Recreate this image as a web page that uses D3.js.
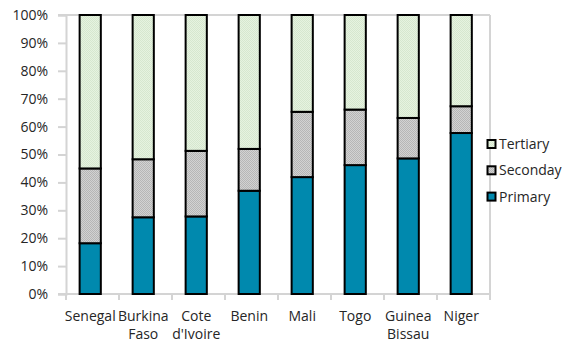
<!DOCTYPE html>
<html>
<head>
<meta charset="utf-8">
<script src="https://cdn.jsdelivr.net/npm/d3@7"></script>
<style>
  html, body { margin: 0; padding: 0; background: #fff; }
  svg { display: block; font-family: "Open Sans", "Noto Sans", sans-serif; }
</style>
</head>
<body>
<svg id="chart" width="566" height="342"></svg>
<script>
// Share of each education level by country (percent)
const countries = ["Senegal", "Burkina Faso", "Cote d'Ivoire", "Benin", "Mali", "Togo", "Guinea Bissau", "Niger"];
const primary   = [18.2, 27.5, 27.8, 37.0, 41.9, 46.2, 48.6, 57.7];
const secondary = [26.8, 20.8, 23.5, 15.0, 23.4, 19.9, 14.5, 9.6];
const tertiary  = [55.0, 51.7, 48.7, 48.0, 34.7, 33.9, 36.9, 32.7];
const seriesNames = ["Primary", "Seconday", "Tertiary"];
const yTicks = [0, 10, 20, 30, 40, 50, 60, 70, 80, 90, 100];

const svg = d3.select("#chart");
const plotLeft = 66, plotRight = 490, plotTop = 15, plotBottom = 294;
const axisColor = "#d4d4d4";
const textColor = "#262626";

// Fine checkered textures for the upper two segments
const defs = svg.append("defs");
function texture(id, base, dot) {
  const p = defs.append("pattern").attr("id", id)
    .attr("patternUnits", "userSpaceOnUse").attr("width", 2).attr("height", 2);
  p.append("rect").attr("width", 2).attr("height", 2).attr("fill", base);
  p.append("rect").attr("x", 0).attr("y", 0).attr("width", 1).attr("height", 1).attr("fill", dot);
  p.append("rect").attr("x", 1).attr("y", 1).attr("width", 1).attr("height", 1).attr("fill", dot);
}
texture("texSecondary", "#d2d2d2", "#b6b6b6");
texture("texTertiary", "#e6f3e0", "#d6e7cf");
const fills = { "Primary": "#0089ae", "Seconday": "url(#texSecondary)", "Tertiary": "url(#texTertiary)" };
const swatchFills = { "Primary": "#0089ae", "Seconday": "url(#texSecondary)", "Tertiary": "url(#texTertiary)" };

const x = d3.scaleBand().domain(countries).range([plotLeft, plotRight])
  .paddingInner(0.6).paddingOuter(0.3).align(0.46);
const y = d3.scaleLinear().domain([0, 100]).range([plotBottom, plotTop]);

// Plot frame: top and right edges
svg.append("line").attr("x1", plotLeft - 8).attr("x2", plotRight).attr("y1", y(100)).attr("y2", y(100))
  .attr("stroke", axisColor).attr("stroke-width", 2);
svg.append("line").attr("x1", plotRight).attr("x2", plotRight).attr("y1", plotTop).attr("y2", plotBottom)
  .attr("stroke", axisColor).attr("stroke-width", 2);

// Y axis
const yAxis = svg.append("g").attr("transform", `translate(${plotLeft},0)`)
  .call(d3.axisLeft(y).tickValues(yTicks).tickFormat(d => d + "%").tickSize(8).tickPadding(10));
yAxis.select(".domain").attr("stroke", axisColor).attr("stroke-width", 2);
yAxis.selectAll(".tick line").attr("stroke", axisColor).attr("stroke-width", 2);
yAxis.selectAll(".tick text").attr("fill", textColor).style("font-size", "14px")
  .style("font-family", "'Open Sans', sans-serif");

// X axis with ticks between categories
const step = x.step();
const boundaries = d3.range(countries.length + 1).map(i => plotLeft + i * step);
svg.append("line").attr("x1", plotLeft - 8).attr("x2", plotRight).attr("y1", plotBottom).attr("y2", plotBottom)
  .attr("stroke", axisColor).attr("stroke-width", 2);
svg.append("g").selectAll("line").data(boundaries).join("line")
  .attr("x1", d => d).attr("x2", d => d).attr("y1", plotBottom).attr("y2", plotBottom + 6)
  .attr("stroke", axisColor).attr("stroke-width", 2);

// Stacked bars
const rows = countries.map((c, i) => ({ country: c, Primary: primary[i], Seconday: secondary[i], Tertiary: tertiary[i] }));
const stacked = d3.stack().keys(seriesNames)(rows);
svg.append("g").selectAll("g").data(stacked).join("g")
  .attr("fill", d => fills[d.key])
  .selectAll("rect").data(d => d).join("rect")
  .attr("x", d => x(d.data.country) - 1)
  .attr("width", x.bandwidth())
  .attr("y", d => y(d[1]))
  .attr("height", d => y(d[0]) - y(d[1]))
  .attr("stroke", "#000").attr("stroke-width", 2);

// Category labels, wrapped onto two lines
const labels = svg.append("g").attr("fill", textColor).style("font-size", "14px").attr("text-anchor", "middle");
countries.forEach(c => {
  const cx = x(c) + x.bandwidth() / 2 - 1;
  const t = labels.append("text").attr("x", cx).attr("y", 321);
  c.split(" ").forEach((w, j) => {
    t.append("tspan").attr("x", cx).attr("dy", j === 0 ? 0 : 18).text(w);
  });
});

// Legend
const legendOrder = ["Tertiary", "Seconday", "Primary"];
const legend = svg.append("g");
legendOrder.forEach((k, i) => {
  const cy = 144 + i * 26.3;
  legend.append("rect").attr("x", 487.5).attr("y", cy - 4).attr("width", 8).attr("height", 8)
    .attr("fill", swatchFills[k]).attr("stroke", "#000").attr("stroke-width", 2);
  legend.append("text").attr("x", 499).attr("y", cy + 5).attr("fill", textColor)
    .style("font-size", "14px").text(k);
});
</script>
</body>
</html>
